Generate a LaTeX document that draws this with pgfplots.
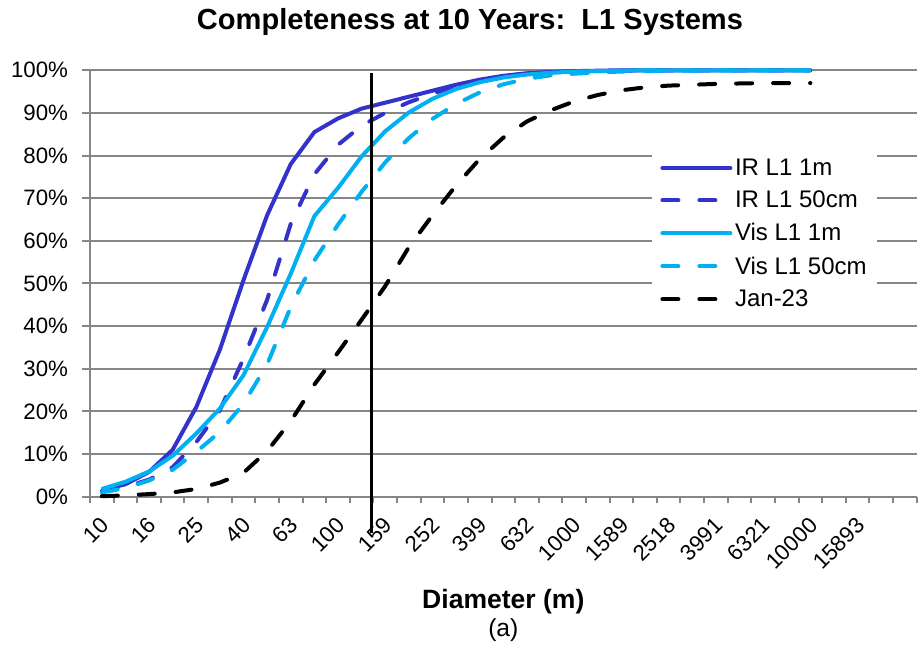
\documentclass[border=0pt]{standalone}
\usepackage{fontspec}
\setmainfont{Liberation Sans}
\usepackage{pgfplots}
\pgfplotsset{compat=1.18}

\definecolor{irblue}{RGB}{51,51,204}
\definecolor{visblue}{RGB}{0,176,240}
\definecolor{gridgray}{RGB}{134,134,134}

\newcommand{\tickfont}{\fontsize{16.7}{19}\selectfont}
\newcommand{\legfont}{\fontsize{18}{20}\selectfont}

% x = category index k, diameter = 10^(1+0.1k) m
\pgfplotstableread{
k  ir1m  ir50  vis1m  vis50  jan23
0  1.6   1.3   1.8    1.0    0.1
1  2.9   2.3   3.5    2.0    0.3
2  5.8   4.0   5.9    3.8    0.6
3  11.0  6.9   9.6    6.3    1.0
4  21.0  12.8  14.8   10.5   1.8
5  34.5  20.3  20.7   15.2   3.3
6  50.8  32.4  28.5   21.8   5.6
7  66.0  46.2  39.8   31.0   10.7
8  78.0  64.0  52.3   44.5   17.7
9  85.5  75.6  65.8   55.4   26.3
10 88.7  82.5  72.4   63.8   33.8
11 91.0  87.0  79.8   71.5   41.5
12 92.4  90.0  85.7   78.4   49.4
13 93.8  92.5  90.1   84.1   58.5
14 95.2  94.5  93.3   88.6   66.0
15 96.6  96.3  95.6   92.1   73.0
16 97.8  97.6  97.2   94.8   79.2
17 98.7  98.6  98.3   96.7   84.2
18 99.3  99.2  99.0   98.0   88.0
19 99.6  99.5  99.4   98.8   90.6
20 99.8  99.7  99.7   99.2   92.7
21 99.9  99.8  99.8   99.5   94.2
22 100   99.9  99.9   99.7   95.3
23 100   100   100    99.8   96.0
24 100   100   100    99.9   96.4
25 100   100   100    99.9   96.6
26 100   100   100    100    96.8
27 100   100   100    100    96.9
28 100   100   100    100    97.0
29 100   100   100    100    97.0
30 100   100   100    100    97.0
}\completeness

\begin{document}
\begin{tikzpicture}
\begin{axis}[
  scale only axis,
  width=620pt, height=319.8pt,
  xmin=-0.5, xmax=34.5,
  ymin=0, ymax=100,
  clip=false,
  axis x line*=bottom,
  axis y line*=left,
  axis line style={gridgray, line width=1.5pt},
  tick align=outside,
  xtick={0,2,...,32},
  xticklabels={10,16,25,40,63,100,159,252,399,632,1000,1589,2518,3991,6321,10000,15893},
  major x tick style={draw=none},
  minor xtick={-0.5,0.5,...,34.5},
  minor tick length=5pt,
  minor x tick style={gridgray, line width=1.5pt},
  ytick={0,10,...,100},
  yticklabels={0\%,10\%,20\%,30\%,40\%,50\%,60\%,70\%,80\%,90\%,100\%},
  major tick length=6pt,
  y tick style={gridgray, line width=1.5pt},
  ymajorgrids,
  y grid style={gridgray, line width=1.5pt},
  tick label style={font=\tickfont},
  xticklabel style={xshift=4.8pt, yshift=-10.2pt, rotate=45, anchor=east},
  yticklabel style={xshift=-7pt},
  legend cell align=left,
  legend style={
    at={(0.680,0.8086)}, anchor=north west,
    draw=none, fill=white,
    font=\legfont,
    inner xsep=6pt, inner ysep=3pt,
    row sep=6.3pt,
  },
  legend image code/.code={\draw[#1, line cap=round] (1.5pt,0pt) -- (52.5pt,0pt);},
  every axis plot/.append style={line width=3pt, line join=round},
]
\addplot[irblue] table[x=k, y=ir1m] {\completeness};
\addlegendentry{IR L1 1m}
\addplot[irblue, line cap=round, dash pattern=on 12pt off 15.75pt] table[x=k, y=ir50] {\completeness};
\addlegendentry{IR L1 50cm}
\addplot[visblue] table[x=k, y=vis1m] {\completeness};
\addlegendentry{Vis L1 1m}
\addplot[visblue, line cap=round, dash pattern=on 12pt off 15.75pt] table[x=k, y=vis50] {\completeness};
\addlegendentry{Vis L1 50cm}
\addplot[black, line cap=round, dash pattern=on 12pt off 15.75pt] table[x=k, y=jan23] {\completeness};
\addlegendentry{Jan-23}

\draw[black, line width=2.25pt] (axis cs:11.43,-8.5) -- (axis cs:11.43,99.4);

\node[font=\bfseries\fontsize{21.8}{24}\selectfont] at (rel axis cs:0.4597,1) [yshift=36.2pt] {Completeness at 10 Years:\ \ L1 Systems};
\node[font=\bfseries\fontsize{19.9}{22}\selectfont, anchor=base] at (rel axis cs:0.5,0) [yshift=-83.5pt] {Diameter (m)};
\node[font=\fontsize{18.5}{21}\selectfont, anchor=base] at (rel axis cs:0.5,0) [yshift=-105pt] {(a)};

\coordinate (bbsw) at (rel axis cs:0,0);
\coordinate (bbne) at (rel axis cs:1,1);
\end{axis}
\pgfresetboundingbox
\path[use as bounding box] ([xshift=-67.5pt,yshift=-116.5pt]bbsw) rectangle ([xshift=2.5pt,yshift=52.7pt]bbne);
\end{tikzpicture}
\end{document}
